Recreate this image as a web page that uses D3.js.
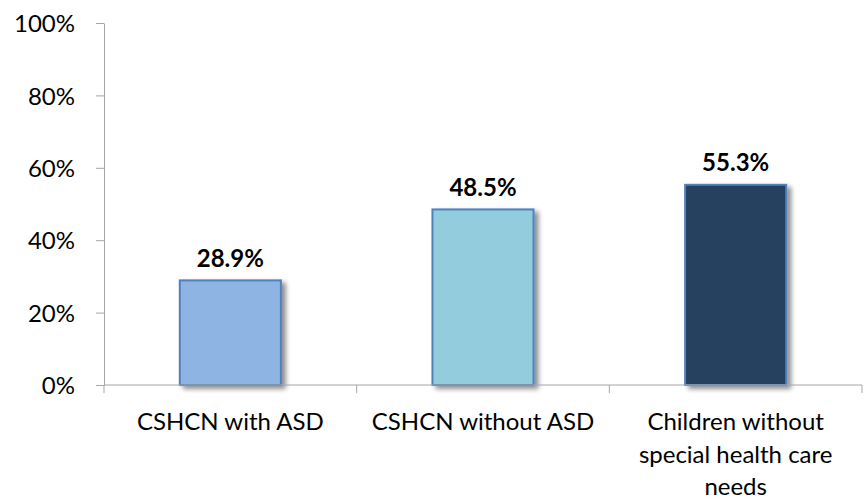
<!DOCTYPE html>
<html><head><meta charset="utf-8">
<script src="https://cdn.jsdelivr.net/npm/d3@7/dist/d3.min.js"></script>
<style>body{margin:0;background:#fff}svg{font-family:Lato,"Open Sans",sans-serif}</style>
</head><body><svg id="c" width="866" height="500"></svg>
<script>
const categories = ["CSHCN with ASD", "CSHCN without ASD", "Children without special health care needs"];
const labelLines = [["CSHCN with ASD"], ["CSHCN without ASD"], ["Children without", "special health care", "needs"]];
const values = [28.9, 48.5, 55.3];
const colors = ["#8eb4e3", "#93cddd", "#253f5f"];
const yTicks = [0, 20, 40, 60, 80, 100];

const svg = d3.select("#c");
const mLeft = 104, mRight = 862, mTop = 23, mBottom = 385;
const x = d3.scaleBand().domain(categories).range([mLeft, mRight]).paddingInner(0.6).paddingOuter(0.3);
const xb = d3.scaleBand().domain(categories).range([mLeft, mRight]);
const y = d3.scaleLinear().domain([0, 100]).range([mBottom, mTop]);

const defs = svg.append("defs");
const f = defs.append("filter").attr("id", "sh").attr("x", "-10%").attr("y", "-10%").attr("width", "130%").attr("height", "130%");
f.append("feGaussianBlur").attr("in", "SourceAlpha").attr("stdDeviation", 2.5);
f.append("feOffset").attr("dx", 4).attr("dy", 3).attr("result", "o");
f.append("feComponentTransfer").append("feFuncA").attr("type", "linear").attr("slope", 0.45);
const m = f.append("feMerge"); m.append("feMergeNode"); m.append("feMergeNode").attr("in", "SourceGraphic");

// y axis
const ya = svg.append("g").attr("transform", `translate(${mLeft},0)`)
  .call(d3.axisLeft(y).tickValues(yTicks).tickFormat(d => d + "%").tickSize(8).tickSizeOuter(0));
ya.attr("font-family", null).attr("font-size", null);
ya.select(".domain").attr("stroke", "#a6a6a6");
ya.selectAll(".tick line").attr("stroke", "#a6a6a6");
ya.selectAll(".tick text").attr("font-size", 24).attr("fill", "#000").attr("x", -29).attr("dy", "0.36em");

// bars
svg.append("g").selectAll("rect").data(values).join("rect")
  .attr("x", (d, i) => x(categories[i]))
  .attr("width", x.bandwidth())
  .attr("y", d => y(d))
  .attr("height", d => y(0) - y(d))
  .attr("fill", (d, i) => colors[i])
  .attr("stroke", "#4f81bd").attr("stroke-width", 2)
  .attr("filter", "url(#sh)");

// x axis
const xa = svg.append("g").attr("transform", `translate(0,${mBottom})`);
xa.append("line").attr("x1", mLeft).attr("x2", mRight).attr("stroke", "#a6a6a6");
xa.selectAll(".t").data(categories.concat(["end"])).join("line")
  .attr("x1", (d, i) => i < categories.length ? xb(d) : mRight)
  .attr("x2", (d, i) => i < categories.length ? xb(d) : mRight)
  .attr("y1", 0).attr("y2", 8).attr("stroke", "#a6a6a6");

// category labels
categories.forEach((c, i) => {
  const cx = xb(c) + xb.bandwidth() / 2;
  const t = svg.append("text").attr("text-anchor", "middle").attr("font-size", 24).attr("fill", "#000")
    .attr("x", cx).attr("y", 430);
  labelLines[i].forEach((l, j) => t.append("tspan").attr("x", cx).attr("dy", j ? 32.5 : 0).text(l));
});

// value labels
svg.append("g").selectAll("text").data(values).join("text")
  .attr("x", (d, i) => x(categories[i]) + x.bandwidth() / 2)
  .attr("y", d => y(d) - 13.5)
  .attr("text-anchor", "middle").attr("font-size", 24).attr("font-weight", "bold").attr("fill", "#000")
  .text(d => d.toFixed(1) + "%");
</script></body></html>
